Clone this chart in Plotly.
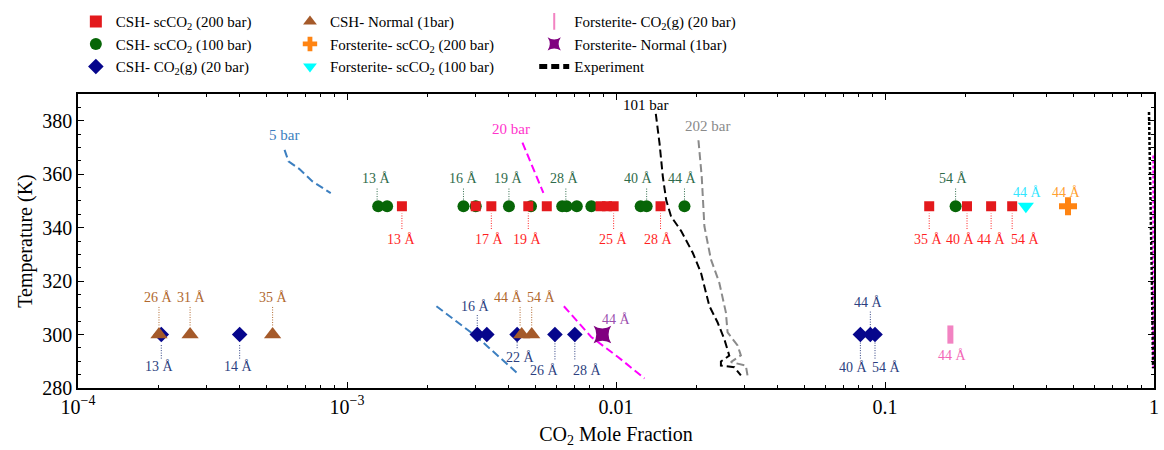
import numpy as np
import plotly.graph_objects as go

# ---------------- data ----------------
T_HIGH = 348
T_LOW = 300

csh_200_x = [1.60e-3, 3.01e-3, 3.44e-3, 4.72e-3, 5.53e-3, 8.76e-3, 9.26e-3, 9.8e-3,
             1.464e-2, 0.146, 0.2018, 0.248, 0.297]
csh_100_x = [1.306e-3, 1.41e-3, 2.71e-3, 3.01e-3, 4.0e-3, 4.83e-3, 6.31e-3, 6.55e-3,
             7.15e-3, 8.1e-3, 1.235e-2, 1.30e-2, 1.797e-2, 0.183]
csh_g20_x = [2.04e-4, 3.99e-4, 3.05e-3, 3.31e-3, 4.29e-3, 5.93e-3, 7.03e-3, 0.081, 0.0882, 0.0918]
csh_norm_x = [2.0e-4, 2.61e-4, 5.29e-4, 4.46e-3, 4.86e-3]
fo_200_x = [0.479]
fo_100_x = [0.334]
fo_g20_x = [0.175]
fo_norm_x = [8.9e-3]

# solubility curves (x = CO2 mole fraction, y = temperature K)
bar5_a_x = [5.86e-4, 6.06e-4, 6.64e-4, 7.44e-4, 8.7e-4]
bar5_a_t = [369.1, 364.8, 362.0, 357.3, 352.9]
bar5_b_x = [2.15e-3, 3.04e-3, 4.28e-3]
bar5_b_t = [310.6, 299.1, 285.7]
bar20_a_x = [4.49e-3, 4.89e-3, 5.37e-3]
bar20_a_t = [371.8, 362.9, 353.0]
bar20_b_x = [6.4e-3, 8.09e-3, 1.017e-2, 1.277e-2]
bar20_b_t = [310.6, 299.1, 291.6, 283.6]
bar101_x = [0.01406, 0.01452, 0.01493, 0.01536, 0.01602, 0.01745, 0.01929, 0.02070, 0.02223,
            0.02387, 0.02527, 0.02637, 0.02455, 0.02455, 0.02752, 0.02912]
bar101_t = [382.6, 371.4, 359.1, 350.4, 344.2, 338.8, 330.6, 323.1, 310.7,
            304.5, 298.3, 292.1, 289.9, 288.4, 287.8, 284.7]
bar202_x = [0.02025, 0.02083, 0.02131, 0.02254, 0.02421, 0.02561, 0.02599, 0.02831, 0.02912,
            0.02673, 0.03038, 0.03082]
bar202_t = [372.7, 359.1, 340.5, 328.1, 319.4, 308.3, 300.8, 295.9, 292.2, 289.7, 288.4, 284.7]
exp_black_x = [0.958, 0.970, 0.982, 0.992]
exp_black_t = [383.3, 355.0, 320.0, 287.4]
exp_mag_x = [0.994, 0.994]
exp_mag_t = [367.0, 287.4]

# curve names
curve_lbl_text = ["5 bar", "20 bar", "101 bar", "202 bar"]
curve_lbl_x = [5.84e-4, 4.08e-3, 1.288e-2, 2.18e-2]
curve_lbl_t = [374.8, 377.0, 385.8, 378.0]

# d-spacing labels: (text, x, T)
green_lbl = [("13 Å", 1.288e-3), ("16 Å", 2.71e-3), ("19 Å", 4.0e-3), ("28 Å", 6.46e-3),
             ("40 Å", 1.216e-2), ("44 Å", 1.77e-2), ("54 Å", 0.1797)]
green_lbl_t = 358.3
green_lead_x = [1.294e-3, 2.71e-3, 4.0e-3, 6.51e-3, 1.30e-2, 1.797e-2, 0.183]
green_lead_t = (350.5, 355.0)

red_lbl = [("13 Å", 1.589e-3), ("17 Å", 3.39e-3), ("19 Å", 4.69e-3), ("25 Å", 9.77e-3),
           ("28 Å", 1.439e-2), ("35 Å", 0.1446), ("40 Å", 0.1906), ("44 Å", 0.249), ("54 Å", 0.333)]
red_lbl_t = 335.5
red_lead_x = [1.6e-3, 3.44e-3, 4.72e-3, 9.8e-3, 1.464e-2, 0.146, 0.2018, 0.248, 0.297]
red_lead_t = (339.5, 345.3)

brown_lbl = [("26 Å", 1.984e-4), ("31 Å", 2.65e-4), ("35 Å", 5.31e-4), ("44 Å", 4.0e-3), ("54 Å", 5.29e-3)]
brown_lbl_t = 313.7
brown_lead_x = [2.0e-4, 2.61e-4, 5.29e-4, 4.4e-3, 4.86e-3]
brown_lead_t = (303.4, 310.9)

blue_lbl = [("13 Å", 2.01e-4, 288.2), ("14 Å", 3.96e-4, 288.2), ("22 Å", 4.4e-3, 291.6),
            ("26 Å", 5.44e-3, 286.7), ("28 Å", 7.83e-3, 286.7), ("40 Å", 0.0766, 287.7),
            ("54 Å", 0.1009, 287.7), ("16 Å", 3.01e-3, 310.5), ("44 Å", 0.0870, 312.1)]
blue_lead = [(2.04e-4, 291.0, 296.6), (3.99e-4, 291.0, 296.6), (4.29e-3, 294.9, 297.8),
             (5.93e-3, 290.7, 297.8), (7.03e-3, 290.7, 297.8), (0.081, 291.0, 297.2),
             (0.0918, 291.0, 297.2), (3.05e-3, 301.3, 307.5), (0.0882, 302.6, 309.0)]

other_lbl = [("44 Å", 1.0e-2, 305.5, "#9b4fae"), ("44 Å", 0.1786, 292.3, "#f266b6"),
             ("44 Å", 0.338, 353.2, "#33e6ff"), ("44 Å", 0.472, 353.2, "#ffa030")]

# ---------------- figure ----------------
FONT = "Liberation Serif"
RED, GREEN, BLUE, BROWN = "#e3191c", "#076607", "#06068c", "#a55a2a"
RED_T, GREEN_T, BLUE_T, BROWN_T = "#ff1f1f", "#2f6b4a", "#2d3f80", "#b0682e"
DASH = "8px,4px"

fig = go.Figure()


def leader(xs, t0, t1, color):
    lx, ly = [], []
    for x in xs:
        lx += [x, x, None]
        ly += [t0, t1, None]
    fig.add_trace(go.Scatter(x=lx, y=ly, mode="lines", showlegend=False, hoverinfo="skip",
                             line=dict(color=color, width=1, dash="1px,1.5px")))


# curves
fig.add_trace(go.Scatter(x=bar5_a_x, y=bar5_a_t, mode="lines", showlegend=False,
                         line=dict(color="#3c7fc0", width=2, dash=DASH)))
fig.add_trace(go.Scatter(x=bar5_b_x, y=bar5_b_t, mode="lines", showlegend=False,
                         line=dict(color="#3c7fc0", width=2, dash=DASH)))
fig.add_trace(go.Scatter(x=bar20_a_x, y=bar20_a_t, mode="lines", showlegend=False,
                         line=dict(color="#ff00ff", width=2, dash=DASH)))
fig.add_trace(go.Scatter(x=bar20_b_x, y=bar20_b_t, mode="lines", showlegend=False,
                         line=dict(color="#ff00ff", width=2, dash=DASH)))
fig.add_trace(go.Scatter(x=bar202_x, y=bar202_t, mode="lines", showlegend=False,
                         line=dict(color="#8a8a8a", width=2, dash=DASH)))
fig.add_trace(go.Scatter(x=exp_mag_x, y=exp_mag_t, mode="lines", showlegend=False,
                         line=dict(color="#ff00ff", width=2, dash="3px,2px")))
fig.add_trace(go.Scatter(x=exp_black_x, y=exp_black_t, mode="lines", showlegend=False,
                         line=dict(color="black", width=2.5, dash="3px,2px")))

# leaders
leader(green_lead_x, *green_lead_t, GREEN_T)
leader(red_lead_x, *red_lead_t, RED_T)
leader(brown_lead_x, *brown_lead_t, BROWN_T)
for x, t0, t1 in blue_lead:
    leader([x], t0, t1, BLUE_T)

# markers (legend col1: legend, col2: legend2, col3: legend3)
fig.add_trace(go.Scatter(x=csh_100_x, y=[T_HIGH] * len(csh_100_x), mode="markers",
                         name="CSH- scCO<sub>2</sub> (100 bar)", legend="legend", legendrank=2,
                         marker=dict(symbol="circle", size=12, color=GREEN)))
fig.add_trace(go.Scatter(x=csh_200_x, y=[T_HIGH] * len(csh_200_x), mode="markers",
                         name="CSH- scCO<sub>2</sub> (200 bar)", legend="legend", legendrank=1,
                         marker=dict(symbol="square", size=10, color=RED)))
fig.add_trace(go.Scatter(x=csh_g20_x, y=[T_LOW] * len(csh_g20_x), mode="markers",
                         name="CSH- CO<sub>2</sub>(g) (20 bar)", legend="legend", legendrank=3,
                         marker=dict(symbol="diamond", size=12, color=BLUE)))
fig.add_trace(go.Scatter(x=csh_norm_x, y=[T_LOW] * len(csh_norm_x), mode="markers",
                         name="CSH- Normal (1bar)", legend="legend2", legendrank=1,
                         marker=dict(symbol="triangle-up", size=15, color=BROWN)))
fig.add_trace(go.Scatter(x=fo_200_x, y=[T_HIGH] * len(fo_200_x), mode="markers",
                         name="Forsterite- scCO<sub>2</sub> (200 bar)", legend="legend2", legendrank=2,
                         marker=dict(symbol="cross", size=15, color="#ff8412")))
fig.add_trace(go.Scatter(x=fo_100_x, y=[T_HIGH] * len(fo_100_x), mode="markers",
                         name="Forsterite- scCO<sub>2</sub> (100 bar)", legend="legend2", legendrank=3,
                         marker=dict(symbol="triangle-down", size=14, color="#00ffff")))
fig.add_trace(go.Scatter(x=fo_g20_x, y=[T_LOW] * len(fo_g20_x), mode="markers",
                         name="Forsterite- CO<sub>2</sub>(g) (20 bar)", legend="legend3", legendrank=1,
                         marker=dict(symbol="line-ns", size=13, color="#f283c2",
                                     line=dict(color="#f283c2", width=6))))
fig.add_trace(go.Scatter(x=fo_norm_x, y=[T_LOW] * len(fo_norm_x), mode="markers",
                         name="Forsterite- Normal (1bar)", legend="legend3", legendrank=2,
                         marker=dict(symbol="star-square", size=16, color="#800080")))
fig.add_trace(go.Scatter(x=bar101_x, y=bar101_t, mode="lines", name="Experiment",
                         legend="legend3", legendrank=3,
                         line=dict(color="black", width=2, dash=DASH)))

# annotations
ann = []


def lab(text, x, t, color, size=14):
    ann.append(dict(x=np.log10(x), y=t, xref="x", yref="y", text=text, showarrow=False,
                    font=dict(family=FONT, size=size, color=color)))


for txt, x in green_lbl:
    lab(txt, x, green_lbl_t, GREEN_T)
for txt, x in red_lbl:
    lab(txt, x, red_lbl_t, RED_T)
for txt, x in brown_lbl:
    lab(txt, x, brown_lbl_t, BROWN_T)
for txt, x, t in blue_lbl:
    lab(txt, x, t, BLUE_T)
for txt, x, t, c in other_lbl:
    lab(txt, x, t, c)
curve_cols = ["#3c7fc0", "#ff33cc", "black", "#8a8a8a"]
for txt, x, t, c in zip(curve_lbl_text, curve_lbl_x, curve_lbl_t, curve_cols):
    lab(txt, x, t, c, size=15)

minor_x = [m * 10.0 ** e for e in range(-4, 0) for m in range(2, 10)]

leg_common = dict(font=dict(family=FONT, size=15, color="black"), bgcolor="rgba(0,0,0,0)",
                  traceorder="normal", tracegroupgap=0, yanchor="top", xanchor="left",
                  itemsizing="constant", itemwidth=30)

fig.update_layout(
    width=1164, height=450,
    margin=dict(l=78, r=5, t=92, b=62),
    paper_bgcolor="white", plot_bgcolor="white",
    font=dict(family=FONT, size=20, color="black"),
    annotations=ann,
    legend=dict(x=-0.002, y=1.302, **leg_common),
    legend2=dict(x=0.197, y=1.302, **leg_common),
    legend3=dict(x=0.424, y=1.302, **leg_common),
    xaxis=dict(type="log", range=[-4, 0], showline=True, linecolor="black", linewidth=1.5,
               mirror="allticks", ticks="inside", ticklen=6, tickcolor="black",
               tickmode="array", tickvals=[1e-4, 1e-3, 1e-2, 1e-1, 1],
               ticktext=["10<sup>−4</sup>", "10<sup>−3</sup>", "0.01", "0.1", "1"],
               minor=dict(tickmode="array", tickvals=minor_x, ticks="inside", ticklen=3,
                          tickcolor="black", showgrid=False),
               showgrid=False, zeroline=False,
               tickfont=dict(family=FONT, size=20),
               title=dict(text="CO<sub>2</sub> Mole Fraction", font=dict(family=FONT, size=20),
                          standoff=10)),
    yaxis=dict(range=[280, 390], showline=True, linecolor="black", linewidth=1.5,
               mirror="allticks", ticks="inside", ticklen=6, tickcolor="black",
               tick0=280, dtick=20,
               minor=dict(dtick=5, ticks="inside", ticklen=3, tickcolor="black", showgrid=False),
               showgrid=False, zeroline=False,
               tickfont=dict(family=FONT, size=20),
               title=dict(text="Temperature (K)", font=dict(family=FONT, size=20), standoff=4)),
)

fig.write_html("out.html")
